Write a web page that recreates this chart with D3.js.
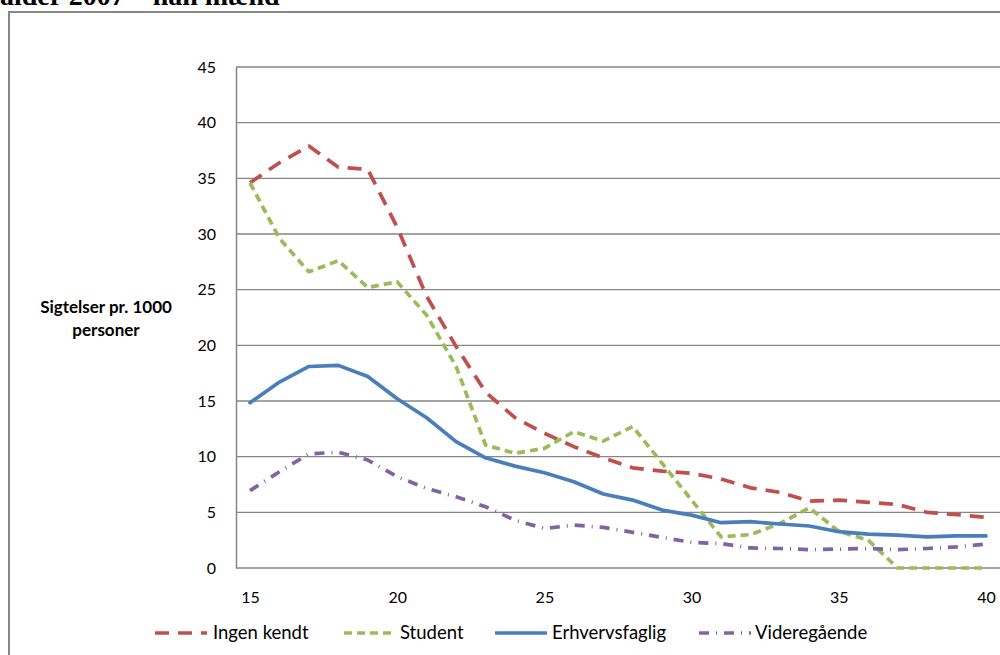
<!DOCTYPE html>
<html><head><meta charset="utf-8">
<script src="https://cdn.jsdelivr.net/npm/d3@7"></script>
<style>
html,body{margin:0;padding:0;background:#fff;overflow:hidden}
svg{display:block}
text{font-family:Lato,"Open Sans",sans-serif;fill:#000}
</style></head>
<body>
<svg id="chart" width="1000" height="655"></svg>
<script>
const ages = d3.range(15, 41);
const ingenKendt = [34.6,36.4,37.9,36.0,35.8,30.6,24.4,19.9,15.8,13.5,12.1,10.9,9.9,9.0,8.7,8.5,8.0,7.2,6.8,6.0,6.1,5.9,5.7,5.0,4.8,4.55];
const student = [34.6,29.6,26.6,27.6,25.2,25.7,22.7,18.1,11.05,10.3,10.75,12.25,11.4,12.7,9.4,6.1,2.8,3.0,4.0,5.4,3.3,2.5,0,0,0,0];
const erhvervsfaglig = [14.85,16.7,18.1,18.2,17.2,15.2,13.5,11.35,9.9,9.15,8.55,7.75,6.65,6.1,5.2,4.75,4.07,4.16,3.95,3.77,3.26,3.05,2.96,2.79,2.88,2.88];
const videregaaende = [6.95,8.65,10.25,10.4,9.7,8.2,7.15,6.4,5.5,4.3,3.55,3.85,3.65,3.2,2.75,2.3,2.2,1.8,1.75,1.65,1.7,1.75,1.65,1.75,1.9,2.15];
const yTicks = [0,5,10,15,20,25,30,35,40,45];
const xTickLabels = [15,20,25,30,35,40];
const seriesNames = ["Ingen kendt","Student","Erhvervsfaglig","Videregående"];
const seriesColors = ["#C0504D","#9BBB59","#4A7EBB","#8064A2"];
const seriesDash = ["14,9","8,5","none","10,7,1,7"];
const seriesData = [ingenKendt, student, erhvervsfaglig, videregaaende];

const svg = d3.select("#chart");

// partial title (cut off at top, as in the reference)
svg.append("text").attr("x", 0).attr("y", 5)
  .style("font-family", "'Liberation Serif','DejaVu Serif',serif")
  .style("font-weight", "bold").style("font-size", "28px")
  .text("alder 2007 – han mænd");

// outer chart border
svg.append("path").attr("d", "M9,660 L9,12 L1005,12")
  .attr("fill", "none").attr("stroke", "#868686").attr("stroke-width", 2);

const band = d3.scaleBand().domain(ages).range([235.3, 1000.7]);
const x = a => band(a) + band.bandwidth() / 2;
const y = d3.scaleLinear().domain([0, 45]).range([568, 67]);

// gridlines
svg.append("g").selectAll("line").data(yTicks.filter(t => t > 0)).join("line")
  .attr("x1", 236).attr("x2", 1000)
  .attr("y1", d => y(d)).attr("y2", d => y(d))
  .attr("stroke", "#868686").attr("stroke-width", 1.3);

// y axis
const yAxis = d3.axisLeft(y).tickValues(yTicks).tickSize(0).tickPadding(20);
const gy = svg.append("g").attr("transform", "translate(236,0)").call(yAxis);
gy.select(".domain").attr("stroke", "#868686").attr("stroke-width", 1.5);
gy.selectAll("text").style("font-size", "16px").style("font-family", "Lato,sans-serif").attr("fill", "#000");

// x axis
const xLin = d3.scaleLinear().domain([15, 40]).range([x(15), x(40)]);
const xAxis = d3.axisBottom(xLin).tickValues(xTickLabels).tickSize(0).tickPadding(24).tickFormat(d3.format("d"));
const gx = svg.append("g").attr("transform", "translate(0,568)").call(xAxis);
gx.select(".domain").remove();
svg.append("line").attr("x1", 236).attr("x2", 1000).attr("y1", 568).attr("y2", 568)
  .attr("stroke", "#868686").attr("stroke-width", 1.5);
gx.selectAll("text").style("font-size", "16px").style("font-family", "Lato,sans-serif").attr("fill", "#000");

// y axis title
const yt = svg.append("text").attr("text-anchor", "middle")
  .style("font-weight", "bold").style("font-size", "17px").style("font-family", "Lato,sans-serif");
yt.append("tspan").attr("x", 106).attr("y", 313).text("Sigtelser pr. 1000");
yt.append("tspan").attr("x", 106).attr("y", 336).text("personer");

// lines
const line = d3.line().x((d, i) => x(ages[i])).y(d => y(d));
seriesData.forEach((s, k) => {
  svg.append("path").datum(s)
    .attr("d", line)
    .attr("fill", "none")
    .attr("stroke", seriesColors[k])
    .attr("stroke-width", 3.7)
    .attr("stroke-linejoin", "round")
    .attr("stroke-linecap", k === 2 ? "round" : "butt")
    .attr("stroke-dasharray", seriesDash[k]);
});

// legend
const legendX = [155, 344, 495, 699];
const legendTextX = [213, 400, 552, 755];
const lg = svg.append("g");
seriesNames.forEach((n, k) => {
  lg.append("line").attr("x1", legendX[k]).attr("x2", legendX[k] + 52)
    .attr("y1", 633).attr("y2", 633)
    .attr("stroke", seriesColors[k]).attr("stroke-width", 3.5)
    .attr("stroke-dasharray", seriesDash[k]);
  lg.append("text").attr("x", legendTextX[k]).attr("y", 639)
    .style("font-size", "18.5px").text(n);
});
</script>
</body></html>
